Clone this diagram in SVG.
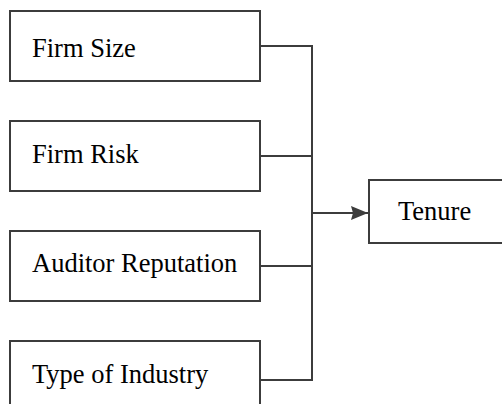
<svg xmlns="http://www.w3.org/2000/svg" width="502" height="405" viewBox="0 0 502 405">
<style>
.box{fill:#fff;stroke:#3c3c3c;stroke-width:2}
.lbl{font-family:"Liberation Serif","Times New Roman",serif;font-size:26.5px;fill:#000}
.ln{fill:none;stroke:#3c3c3c;stroke-width:2}
</style>
<defs>
<marker id="arr" markerUnits="userSpaceOnUse" markerWidth="18" markerHeight="16" refX="17" refY="7" orient="auto">
<path d="M0,0 L17,7 L0,14 L2,7 Z" fill="#3c3c3c"/>
</marker>
</defs>
<rect width="502" height="405" fill="#fff"/>
<g id="connectors">
<path class="ln" d="M260,46 H312 M260,156 H312 M260,266 H312 M260,380 H312 M312,45 V381"/>
<path class="ln" d="M312,213 H368" marker-end="url(#arr)"/>
</g>
<g id="firm-size">
<rect class="box" x="10" y="11" width="250" height="70"/>
<text class="lbl" x="32" y="57">Firm Size</text>
</g>
<g id="firm-risk">
<rect class="box" x="10" y="121" width="250" height="70"/>
<text class="lbl" x="32" y="163">Firm Risk</text>
</g>
<g id="auditor-reputation">
<rect class="box" x="10" y="231" width="250" height="70"/>
<text class="lbl" x="32" y="272">Auditor Reputation</text>
</g>
<g id="type-of-industry">
<path class="box" d="M10,404 V341 H260 V404"/>
<text class="lbl" x="32" y="383">Type of Industry</text>
</g>
<g id="tenure">
<rect class="box" x="369" y="180" width="150" height="63"/>
<text class="lbl" x="398" y="220">Tenure</text>
</g>
</svg>
